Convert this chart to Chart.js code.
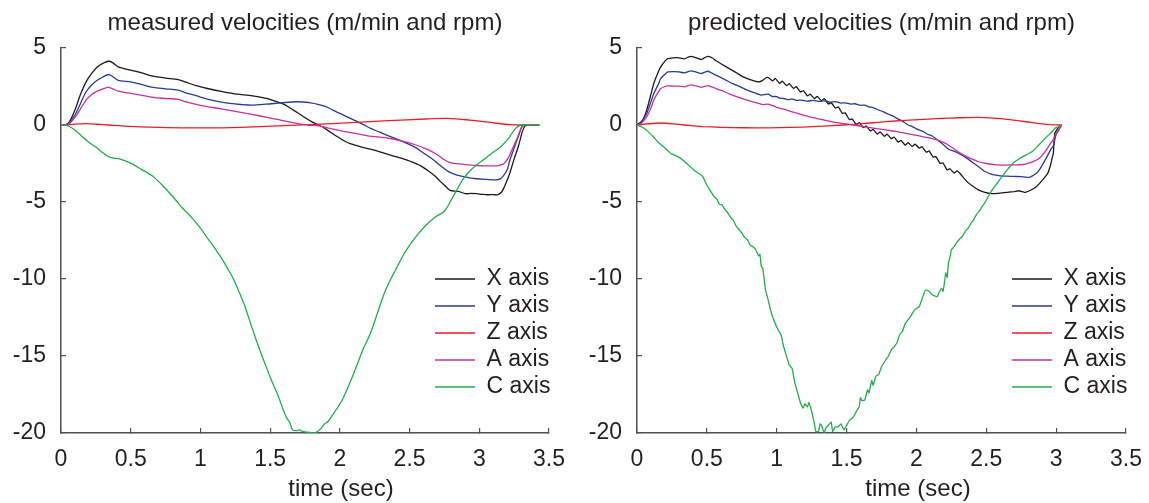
<!DOCTYPE html>
<html><head><meta charset="utf-8">
<script src="https://cdn.jsdelivr.net/npm/chart.js@4.4.1/dist/chart.umd.min.js"></script>
<style>
html,body{margin:0;padding:0;background:#fff;overflow:hidden;width:1149px;height:503px;position:relative}
.box{position:absolute;top:0;height:503px}
#w1{left:0;width:682px}
#w2{left:576px;width:684px}
</style></head><body>
<div class="box" id="w1"><canvas id="c1"></canvas></div>
<div class="box" id="w2"><canvas id="c2"></canvas></div>
<script>
// ---- data ----
const seriesNames = ['X axis','Y axis','Z axis','A axis','C axis'];
const seriesColors = ['#1a1a1a','#2b3a98','#ec1c24','#c8309a','#1fae4b'];
const xTicks = [0,0.5,1,1.5,2,2.5,3,3.5];
const xTickLabels = ['0','0.5','1','1.5','2','2.5','3','3.5'];
const yTicks = [5,0,-5,-10,-15,-20];
const yTickLabels = ['5','0','-5','-10','-15','-20'];
const titles = ['measured velocities (m/min and rpm)','predicted velocities (m/min and rpm)'];
const xAxisTitle = 'time (sec)';

// measured (t sec, value)
const mX = [[0,0],[0.03,0],[0.06,0.2],[0.1,0.97],[0.14,2.0],[0.18,2.8],[0.22,3.35],[0.26,3.77],[0.3,4.0],[0.34,4.14],[0.37,4.05],[0.41,3.77],[0.5,3.56],[0.58,3.38],[0.66,3.17],[0.75,3.05],[0.84,2.95],[0.89,2.8],[0.97,2.55],[1.05,2.37],[1.15,2.18],[1.26,2.0],[1.35,1.92],[1.42,1.83],[1.48,1.72],[1.53,1.57],[1.58,1.42],[1.61,1.29],[1.67,0.95],[1.74,0.54],[1.8,0.2],[1.87,-0.1],[1.93,-0.45],[1.98,-0.75],[2.03,-1.02],[2.08,-1.23],[2.15,-1.42],[2.22,-1.57],[2.3,-1.78],[2.38,-2.0],[2.45,-2.18],[2.51,-2.37],[2.58,-2.65],[2.64,-3.02],[2.68,-3.3],[2.72,-3.66],[2.76,-4.0],[2.79,-4.25],[2.85,-4.31],[2.9,-4.46],[2.94,-4.44],[2.98,-4.46],[3.02,-4.5],[3.06,-4.53],[3.1,-4.52],[3.13,-4.53],[3.16,-4.35],[3.19,-3.8],[3.22,-3.1],[3.25,-2.2],[3.28,-1.4],[3.31,-0.4],[3.33,-0.05],[3.36,0],[3.43,0]];
const mY = [[0,0],[0.03,0],[0.06,0.15],[0.1,0.65],[0.14,1.4],[0.18,2.16],[0.22,2.6],[0.26,2.9],[0.3,3.12],[0.34,3.28],[0.37,3.15],[0.41,2.9],[0.5,2.8],[0.58,2.62],[0.66,2.44],[0.75,2.35],[0.84,2.26],[0.89,2.11],[0.97,1.9],[1.05,1.68],[1.13,1.52],[1.21,1.4],[1.29,1.33],[1.37,1.29],[1.47,1.35],[1.58,1.44],[1.69,1.51],[1.79,1.44],[1.85,1.33],[1.9,1.19],[1.95,0.97],[2.0,0.75],[2.06,0.5],[2.11,0.28],[2.17,0.02],[2.22,-0.22],[2.29,-0.48],[2.35,-0.71],[2.42,-0.95],[2.48,-1.19],[2.55,-1.5],[2.61,-1.88],[2.67,-2.25],[2.72,-2.63],[2.76,-2.9],[2.79,-3.08],[2.84,-3.25],[2.88,-3.34],[2.93,-3.43],[2.98,-3.49],[3.05,-3.53],[3.12,-3.56],[3.15,-3.5],[3.17,-3.34],[3.2,-2.9],[3.22,-2.26],[3.25,-1.5],[3.28,-0.75],[3.31,-0.06],[3.34,0],[3.43,0]];
const mZ = [[0,0],[0.03,0],[0.1,0.06],[0.18,0.09],[0.26,0.05],[0.34,0],[0.5,-0.09],[0.76,-0.17],[1.03,-0.19],[1.29,-0.15],[1.56,-0.06],[1.82,0.04],[2.08,0.15],[2.35,0.28],[2.61,0.39],[2.77,0.43],[2.93,0.32],[3.09,0.15],[3.22,0.02],[3.3,0],[3.43,0]];
const mA = [[0,0],[0.03,0],[0.06,0.1],[0.1,0.5],[0.14,1.05],[0.18,1.62],[0.22,1.98],[0.26,2.2],[0.3,2.34],[0.34,2.44],[0.37,2.35],[0.41,2.2],[0.5,2.05],[0.58,1.93],[0.66,1.79],[0.75,1.72],[0.84,1.66],[0.89,1.51],[1.0,1.28],[1.16,1.03],[1.3,0.8],[1.42,0.6],[1.55,0.36],[1.69,0.11],[1.77,0.0],[1.85,-0.06],[1.95,-0.27],[2.08,-0.5],[2.2,-0.7],[2.35,-0.86],[2.45,-1.05],[2.53,-1.25],[2.61,-1.52],[2.69,-1.88],[2.74,-2.2],[2.79,-2.44],[2.88,-2.54],[2.98,-2.63],[3.06,-2.65],[3.13,-2.65],[3.16,-2.58],[3.18,-2.48],[3.21,-2.1],[3.24,-1.5],[3.27,-0.9],[3.29,-0.43],[3.31,-0.06],[3.34,0],[3.43,0]];
const mC = [[0,0],[0.03,0],[0.06,-0.1],[0.1,-0.32],[0.14,-0.65],[0.18,-0.97],[0.22,-1.25],[0.26,-1.5],[0.3,-1.8],[0.34,-2.05],[0.38,-2.15],[0.42,-2.2],[0.5,-2.48],[0.58,-2.9],[0.66,-3.34],[0.72,-3.85],[0.79,-4.53],[0.83,-4.95],[0.87,-5.39],[0.91,-5.75],[0.95,-6.14],[1.0,-6.7],[1.04,-7.22],[1.08,-7.7],[1.11,-8.1],[1.16,-8.77],[1.2,-9.4],[1.24,-10.06],[1.28,-10.9],[1.32,-11.8],[1.36,-12.9],[1.4,-13.96],[1.44,-14.95],[1.48,-15.9],[1.52,-16.8],[1.56,-17.64],[1.59,-18.4],[1.62,-19.05],[1.64,-19.3],[1.66,-19.8],[1.69,-19.85],[1.71,-19.8],[1.73,-19.9],[1.77,-19.95],[1.82,-20.0],[1.86,-19.75],[1.89,-19.4],[1.91,-19.3],[1.95,-18.8],[2.01,-17.97],[2.06,-17.0],[2.11,-15.9],[2.16,-14.7],[2.22,-13.5],[2.27,-12.2],[2.32,-10.9],[2.36,-10.1],[2.4,-9.4],[2.44,-8.7],[2.48,-8.08],[2.55,-7.2],[2.61,-6.57],[2.68,-6.0],[2.75,-5.6],[2.8,-4.85],[2.84,-4.2],[2.88,-3.56],[2.93,-3.0],[2.98,-2.59],[3.04,-2.2],[3.09,-1.83],[3.15,-1.45],[3.2,-0.97],[3.23,-0.6],[3.26,-0.22],[3.3,0],[3.43,0]];

// predicted (t sec, value)
const pX = [[0,0],[0.04,0.3],[0.07,0.97],[0.1,2.0],[0.12,2.7],[0.15,3.4],[0.17,3.77],[0.2,4.15],[0.22,4.31],[0.26,4.36],[0.29,4.37],[0.34,4.3],[0.37,4.42],[0.39,4.46],[0.43,4.35],[0.46,4.25],[0.49,4.4],[0.51,4.46],[0.54,4.35],[0.56,4.2],[0.6,3.98],[0.66,3.66],[0.71,3.4],[0.76,3.12],[0.81,2.95],[0.87,2.8],[0.9,2.9],[0.92,3.05],[0.94,3.08],[0.97,2.87],[0.99,3.02],[1.02,2.7],[1.04,2.85],[1.07,2.55],[1.09,2.68],[1.12,2.37],[1.14,2.49],[1.17,2.14],[1.19,2.24],[1.22,1.89],[1.24,2.01],[1.27,1.71],[1.29,1.86],[1.32,1.57],[1.34,1.72],[1.37,1.36],[1.39,1.45],[1.42,1.09],[1.44,1.18],[1.47,0.75],[1.49,0.79],[1.52,0.35],[1.54,0.39],[1.57,0.04],[1.59,0.15],[1.62,-0.17],[1.64,-0.06],[1.67,-0.39],[1.69,-0.28],[1.72,-0.59],[1.74,-0.45],[1.77,-0.73],[1.79,-0.59],[1.82,-0.89],[1.84,-0.78],[1.87,-1.11],[1.89,-1.0],[1.92,-1.31],[1.94,-1.15],[1.97,-1.4],[1.99,-1.24],[2.02,-1.5],[2.04,-1.41],[2.07,-1.77],[2.09,-1.68],[2.12,-2.09],[2.14,-2.06],[2.17,-2.5],[2.19,-2.46],[2.22,-2.92],[2.24,-2.84],[2.27,-3.12],[2.29,-2.98],[2.31,-3.13],[2.36,-3.66],[2.4,-3.95],[2.44,-4.2],[2.49,-4.38],[2.54,-4.46],[2.6,-4.42],[2.65,-4.37],[2.7,-4.32],[2.73,-4.27],[2.76,-4.33],[2.78,-4.37],[2.82,-4.22],[2.86,-3.99],[2.9,-3.6],[2.94,-3.13],[2.96,-2.6],[2.97,-2.2],[2.98,-1.83],[2.99,-0.54],[3.02,-0.11],[3.04,0]];
const pY = [[0,0],[0.03,0.15],[0.07,0.75],[0.1,1.5],[0.12,2.05],[0.15,2.6],[0.17,3.02],[0.2,3.3],[0.22,3.45],[0.26,3.47],[0.3,3.45],[0.34,3.38],[0.37,3.48],[0.39,3.51],[0.43,3.42],[0.46,3.34],[0.49,3.45],[0.51,3.49],[0.54,3.35],[0.58,3.17],[0.63,2.95],[0.68,2.7],[0.74,2.48],[0.79,2.26],[0.84,2.1],[0.89,1.94],[0.92,1.98],[0.94,2.0],[0.97,1.85],[1.0,1.85],[1.02,1.74],[1.05,1.72],[1.08,1.64],[1.11,1.7],[1.14,1.6],[1.18,1.62],[1.22,1.55],[1.26,1.6],[1.3,1.54],[1.34,1.57],[1.38,1.48],[1.42,1.52],[1.46,1.42],[1.49,1.44],[1.53,1.36],[1.56,1.38],[1.6,1.28],[1.63,1.29],[1.66,1.18],[1.69,1.13],[1.73,0.97],[1.76,0.87],[1.8,0.7],[1.84,0.54],[1.87,0.38],[1.9,0.25],[1.94,0.0],[1.97,-0.1],[2.0,-0.25],[2.05,-0.43],[2.08,-0.6],[2.11,-0.7],[2.15,-0.97],[2.19,-1.25],[2.23,-1.57],[2.27,-1.7],[2.31,-1.88],[2.36,-2.15],[2.41,-2.48],[2.45,-2.75],[2.49,-3.02],[2.54,-3.2],[2.6,-3.3],[2.65,-3.32],[2.7,-3.34],[2.75,-3.35],[2.81,-3.4],[2.85,-3.2],[2.88,-2.91],[2.92,-2.3],[2.96,-1.62],[2.98,-1.35],[2.99,-0.97],[3.0,-0.6],[3.02,-0.32],[3.04,0]];
const pZ = [[0,0],[0.08,0.08],[0.18,0.13],[0.26,0.07],[0.34,0],[0.47,-0.1],[0.6,-0.15],[0.77,-0.18],[0.94,-0.19],[1.1,-0.16],[1.26,-0.11],[1.4,-0.04],[1.55,0.04],[1.67,0.13],[1.78,0.22],[1.92,0.3],[2.05,0.37],[2.18,0.43],[2.31,0.47],[2.44,0.5],[2.55,0.45],[2.65,0.37],[2.74,0.27],[2.83,0.15],[2.9,0.07],[2.96,0.02],[3.04,0]];
const pA = [[0,0],[0.03,0.1],[0.07,0.54],[0.1,1.1],[0.12,1.62],[0.15,2.1],[0.17,2.37],[0.2,2.5],[0.22,2.54],[0.26,2.53],[0.3,2.52],[0.34,2.48],[0.37,2.58],[0.39,2.61],[0.43,2.52],[0.46,2.44],[0.49,2.53],[0.51,2.56],[0.55,2.42],[0.6,2.26],[0.66,2.02],[0.73,1.79],[0.8,1.58],[0.87,1.4],[0.9,1.32],[0.94,1.36],[1.0,1.15],[1.07,0.97],[1.15,0.75],[1.23,0.54],[1.31,0.38],[1.39,0.22],[1.47,0.1],[1.55,0.0],[1.62,-0.1],[1.7,-0.22],[1.78,-0.32],[1.86,-0.43],[1.94,-0.57],[2.02,-0.71],[2.08,-0.82],[2.15,-0.97],[2.22,-1.25],[2.28,-1.62],[2.32,-1.85],[2.36,-2.05],[2.4,-2.22],[2.44,-2.37],[2.5,-2.5],[2.57,-2.59],[2.63,-2.6],[2.7,-2.59],[2.75,-2.58],[2.78,-2.54],[2.83,-2.4],[2.88,-2.16],[2.92,-1.75],[2.96,-1.19],[2.98,-0.95],[3.0,-0.54],[3.02,-0.25],[3.04,0]];
const pC = [[0,0],[0.04,-0.15],[0.08,-0.43],[0.12,-0.8],[0.16,-1.19],[0.2,-1.5],[0.24,-1.83],[0.28,-2.0],[0.31,-2.15],[0.34,-2.37],[0.38,-2.7],[0.42,-3.02],[0.45,-3.2],[0.47,-3.34],[0.5,-3.9],[0.52,-4.2],[0.55,-4.63],[0.57,-4.8],[0.59,-5.15],[0.61,-5.2],[0.63,-5.5],[0.65,-5.7],[0.67,-6.0],[0.69,-6.2],[0.71,-6.57],[0.73,-6.8],[0.75,-7.0],[0.77,-7.3],[0.79,-7.44],[0.81,-7.8],[0.83,-7.9],[0.85,-8.1],[0.87,-8.5],[0.88,-8.4],[0.89,-9.2],[0.9,-9.3],[0.91,-10.0],[0.92,-10.7],[0.94,-11.4],[0.95,-11.8],[0.97,-12.45],[0.99,-12.9],[1.01,-13.3],[1.03,-13.6],[1.05,-14.4],[1.07,-15.0],[1.09,-15.6],[1.11,-15.8],[1.13,-16.75],[1.15,-17.4],[1.17,-18.05],[1.19,-18.4],[1.2,-18.1],[1.22,-18.3],[1.23,-18.03],[1.25,-18.6],[1.27,-19.4],[1.28,-19.9],[1.3,-19.9],[1.31,-19.4],[1.32,-19.5],[1.34,-20.0],[1.35,-19.7],[1.37,-19.5],[1.39,-19.3],[1.4,-19.9],[1.42,-19.6],[1.44,-19.6],[1.46,-19.4],[1.48,-19.8],[1.5,-19.5],[1.52,-19.2],[1.55,-18.94],[1.57,-18.6],[1.59,-18.3],[1.6,-17.7],[1.61,-17.9],[1.63,-17.86],[1.65,-17.2],[1.66,-17.4],[1.68,-16.6],[1.69,-16.9],[1.71,-16.3],[1.73,-16.2],[1.75,-15.7],[1.78,-15.26],[1.8,-15.0],[1.82,-14.6],[1.84,-14.4],[1.86,-14.16],[1.88,-13.6],[1.9,-13.4],[1.92,-12.9],[1.94,-12.66],[1.96,-12.4],[1.98,-12.1],[2.0,-11.9],[2.02,-11.8],[2.04,-11.3],[2.06,-10.8],[2.07,-10.7],[2.09,-10.8],[2.11,-11.0],[2.13,-11.1],[2.15,-11.15],[2.16,-10.9],[2.18,-10.6],[2.19,-10.8],[2.2,-10.28],[2.21,-9.6],[2.22,-9.9],[2.23,-8.9],[2.24,-8.6],[2.25,-8.1],[2.27,-7.9],[2.29,-7.6],[2.31,-7.4],[2.33,-7.22],[2.35,-6.9],[2.37,-6.7],[2.39,-6.4],[2.41,-6.14],[2.43,-5.8],[2.45,-5.6],[2.47,-5.3],[2.49,-5.06],[2.51,-4.7],[2.53,-4.4],[2.55,-4.1],[2.57,-3.88],[2.6,-3.5],[2.63,-3.15],[2.65,-2.91],[2.69,-2.5],[2.73,-2.22],[2.78,-1.97],[2.83,-1.72],[2.87,-1.35],[2.91,-0.97],[2.94,-0.7],[2.96,-0.54],[2.99,-0.22],[3.02,-0.11],[3.04,0]];

// ---- chart ----
const FONT = "'Liberation Sans', Arial, Helvetica, sans-serif";
const TEXT = '#231f20';
const AXIS = '#505050';
Chart.defaults.font.family = FONT;
Chart.defaults.color = TEXT;

const legendMover = {
  id: 'legendMover',
  afterLayout(chart) {
    const lg = chart.legend, ca = chart.chartArea;
    if (!lg) return;
    lg.left = ca.right - 118;
    lg.top = 263.5;
    lg.right = lg.left + lg.width;
    lg.bottom = lg.top + lg.height;
  }
};

function toXY(arr){ return arr.map(p => ({x: p[0], y: p[1]})); }

function makeChart(id, series, title, tension, rightW) {
  const datasets = series.map((s, i) => ({
    label: seriesNames[i],
    data: toXY(s),
    borderColor: seriesColors[i],
    backgroundColor: seriesColors[i],
    borderWidth: 1.3,
    pointRadius: 0,
    tension: tension,
    order: series.length - i
  }));
  return new Chart(document.getElementById(id), {
    type: 'line',
    data: {datasets},
    plugins: [legendMover],
    options: {
      responsive: true, maintainAspectRatio: false, animation: false, devicePixelRatio: 1,
      layout: {padding: {top: 0, left: 0, right: 0, bottom: 2}},
      plugins: {
        title: {display: true, text: title, fullSize: false, color: TEXT,
                font: {size: 24, weight: 'normal', lineHeight: 1.2}, padding: {top: 9, bottom: 10.2}},
        subtitle: {display: true, text: xAxisTitle, position: 'bottom', fullSize: true, color: TEXT,
                font: {size: 24, weight: 'normal', lineHeight: 1}, padding: {top: 4, bottom: 0}},
        legend: {position: 'chartArea', align: 'start',
                 labels: {usePointStyle: true, pointStyle: 'line', pointStyleWidth: 40, padding: 4,
                          color: TEXT, font: {size: 23},
                          sort: (a, b) => a.datasetIndex - b.datasetIndex}},
        tooltip: {enabled: false}
      },
      scales: {
        x: {type: 'linear', min: 0, max: 3.5,
            afterBuildTicks: s => { s.ticks = xTicks.map(v => ({value: v})); },
            afterFit: s => { s.height = 40; },
            border: {display: true, color: AXIS, width: 1.5},
            grid: {display: true, drawOnChartArea: false, drawTicks: true, tickLength: -5, color: AXIS, lineWidth: 1.2},
            ticks: {padding: 18, font: {size: 23}, color: TEXT, maxRotation: 0,
                    callback: (v, i) => xTickLabels[i]}},
        y: {type: 'linear', min: -20, max: 5,
            afterBuildTicks: s => { s.ticks = yTicks.map(v => ({value: v})); },
            afterFit: s => { s.width = 61; },
            border: {display: true, color: AXIS, width: 1.5},
            grid: {display: true, drawOnChartArea: false, drawTicks: true, tickLength: -5, color: AXIS, lineWidth: 1.2},
            ticks: {padding: 20, font: {size: 23}, color: TEXT,
                    callback: (v, i) => yTickLabels[i]}},
        yR: {type: 'linear', position: 'right', display: true,
            afterFit: s => { s.width = rightW; },
            border: {display: false}, grid: {display: false}, ticks: {display: false}}
      }
    }
  });
}

makeChart('c1', [mX, mY, mZ, mA, mC], titles[0], 0.3, 133);
makeChart('c2', [pX, pY, pZ, pA, pC], titles[1], 0.1, 134);
</script>
</body></html>
